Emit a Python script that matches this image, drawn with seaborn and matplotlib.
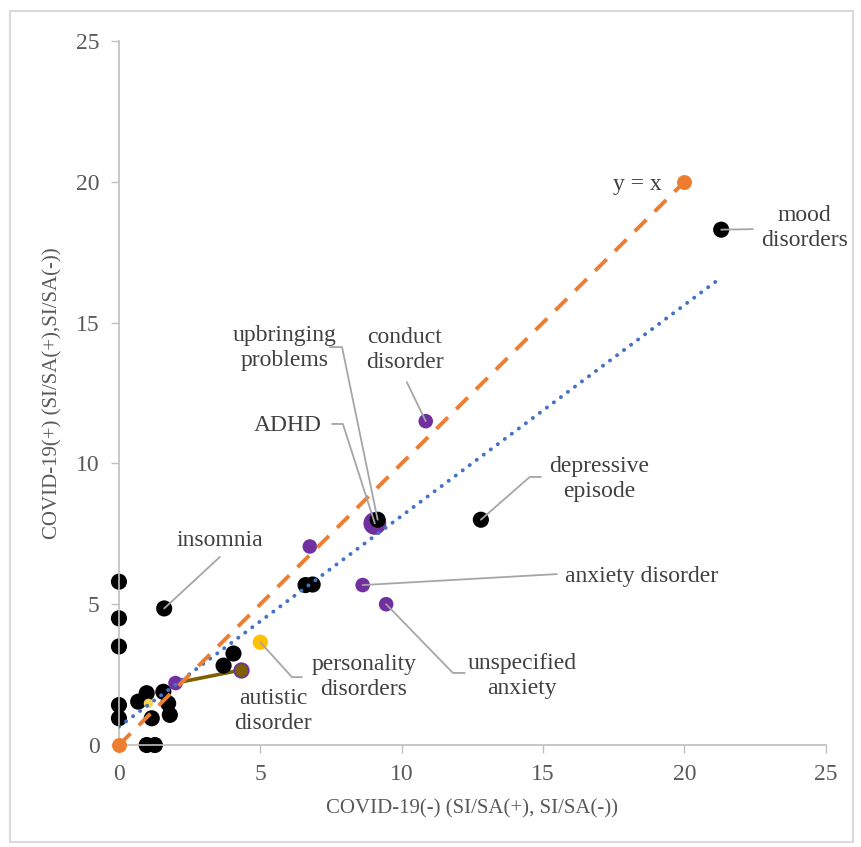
import matplotlib
matplotlib.use("Agg")
import matplotlib.pyplot as plt
import seaborn as sns
import pandas as pd
from matplotlib.patches import Rectangle

# ---------------- data ----------------
# COVID-19(-) value (x) and COVID-19(+) value (y) of each diagnosis point
point_x = [0.0, 0.0, 0.0, 0.0, 0.0,
           1.6,
           0.68, 0.98, 1.16, 1.57, 1.74, 1.8,
           0.98, 1.27,
           3.7, 4.05,
           6.6, 6.85,
           12.8, 21.3,
           2.0, 6.75, 8.62, 9.45, 10.85,
           9.05, 9.15,
           5.0, 1.04]
point_y = [5.8, 4.5, 3.5, 1.42, 0.95,
           4.85,
           1.54, 1.84, 0.95, 1.89, 1.48, 1.07,
           0.0, 0.0,
           2.82, 3.25,
           5.68, 5.7,
           8.0, 18.3,
           2.2, 7.05, 5.68, 5.0, 11.5,
           7.87, 8.0,
           3.65, 1.48]
point_kind = (["black"] * 20 +
              ["purple"] * 5 +
              ["purple_big", "black"] +
              ["yellow", "yellow_small"])

# autistic disorder segment (purple -> brown)
autistic_x = [2.0, 4.3]
autistic_y = [2.2, 2.66]

# reference line y = x
ref_x = [0, 20]
ref_y = [0, 20]

# linear trend line
trend_x = [0.0, 21.3]
trend_y = [0.65, 16.6]

tick_values = [0, 5, 10, 15, 20, 25]

# labels: (text, point x, point y)
labels = {
    "insomnia": ("insomnia", 1.6, 4.85),
    "upbringing": ("upbringing\nproblems", 9.15, 8.0),
    "adhd": ("ADHD", 9.05, 7.87),
    "conduct": ("conduct\ndisorder", 10.85, 11.5),
    "depressive": ("depressive\nepisode", 12.8, 8.0),
    "anxiety": ("anxiety disorder", 8.62, 5.68),
    "unspecified": ("unspecified\nanxiety", 9.45, 5.0),
    "personality": ("personality\ndisorders", 5.0, 3.65),
    "autistic": ("autistic\ndisorder", 4.3, 2.66),
    "mood": ("mood\ndisorders", 21.3, 18.3),
    "yx": ("y = x", 20.0, 20.0),
}

x_label = "COVID-19(-) (SI/SA(+), SI/SA(-))"
y_label = "COVID-19(+) (SI/SA(+),SI/SA(-))"

# ---------------- style ----------------
colors = {"black": "#000000", "purple": "#7030a0", "purple_big": "#7030a0",
          "yellow": "#ffc000", "yellow_small": "#ffd34d", "brown": "#7f6000",
          "orange": "#ed7d31"}
sizes = {"black": 135, "purple": 110, "purple_big": 270,
         "yellow": 120, "yellow_small": 45}

# text layout: (text x, text y, ha, leader path points between point and text)
layout = {
    "insomnia": (3.57, 7.28, "center", [(3.57, 6.68)]),
    "upbringing": (5.87, 14.1, "center", [(7.89, 14.13), (7.46, 14.13)]),
    "adhd": (5.98, 11.36, "center", [(7.92, 11.4), (7.53, 11.4)]),
    "conduct": (10.11, 14.03, "center", [(10.18, 12.89)]),
    "depressive": (17.0, 9.45, "center", [(14.53, 9.52), (14.92, 9.52)]),
    "anxiety": (15.77, 5.97, "left", [(15.49, 6.07)]),
    "unspecified": (14.25, 2.45, "center", [(11.81, 2.56), (12.23, 2.56)]),
    "personality": (8.66, 2.41, "center", [(6.12, 2.41), (6.47, 2.41)]),
    "autistic": (5.45, 1.21, "center", []),
    "mood": (24.26, 18.36, "center", [(22.42, 18.32)]),
    "yx": (18.32, 19.89, "center", []),
}

sns.set_theme(style="white")
plt.rcParams["font.family"] = ["Liberation Serif", "DejaVu Serif"]

fig = plt.figure(figsize=(8.62, 8.47), dpi=100)
fig.patches.append(Rectangle((0.0116, 0.006), 0.978, 0.981, transform=fig.transFigure,
                             fill=False, edgecolor="#d9d9d9", linewidth=1.5))
ax = fig.add_axes([0.138, 0.1204, 0.820, 0.8312])

df = pd.DataFrame({"x": point_x, "y": point_y, "kind": point_kind})

# autistic disorder segment
sns.lineplot(x=autistic_x, y=autistic_y, ax=ax, color=colors["brown"], linewidth=2.6,
             sort=False, estimator=None, zorder=1)

sns.scatterplot(data=df, x="x", y="y", hue="kind", palette=colors, size="kind",
                sizes=sizes, legend=False, linewidth=0, ax=ax, clip_on=False, zorder=2)
sns.scatterplot(x=[autistic_x[1]], y=[autistic_y[1]], color=colors["brown"], s=110,
                edgecolor=colors["purple"], linewidth=1.2, ax=ax, clip_on=False, zorder=2)

# trend line (dotted blue)
sns.lineplot(x=trend_x, y=trend_y, ax=ax, color="#4472c4", linewidth=2.8,
             linestyle=(0, (0.05, 2.2)), dash_capstyle="round", sort=False,
             estimator=None, zorder=3)
# y = x (dashed orange)
sns.lineplot(x=ref_x, y=ref_y, ax=ax, color=colors["orange"], linewidth=2.8,
             linestyle=(0, (4.2, 3.0)), sort=False, estimator=None, zorder=3)
sns.scatterplot(x=ref_x, y=ref_y, color=colors["orange"], s=115, linewidth=0,
                ax=ax, clip_on=False, zorder=4)

# labels and leader lines
for key, (text, px, py) in labels.items():
    tx, ty, ha, path = layout[key]
    if path:
        xs = [px] + [p[0] for p in path]
        ys = [py] + [p[1] for p in path]
        ax.plot(xs, ys, color="#a6a6a6", linewidth=1.3, zorder=5, clip_on=False)
    ax.text(tx, ty, text, ha=ha, va="center", fontsize=17, color="#404040",
            linespacing=1.25, zorder=6, clip_on=False)

ax.set_xlim(0, 25)
ax.set_ylim(0, 25)
ax.set_xticks(tick_values)
ax.set_yticks(tick_values)
ax.set_xticklabels([str(v) for v in tick_values])
ax.set_yticklabels([str(v) for v in tick_values])
ax.tick_params(axis="both", which="major", direction="out", length=6, width=1,
               color="#bfbfbf", labelsize=17, labelcolor="#595959", pad=8)
ax.tick_params(axis="x", bottom=True)
ax.tick_params(axis="y", left=True)
for side in ["top", "right"]:
    ax.spines[side].set_visible(False)
for side in ["left", "bottom"]:
    ax.spines[side].set_color("#bfbfbf")
    ax.spines[side].set_linewidth(1.2)

ax.set_xlabel(x_label, fontsize=15, color="#595959", labelpad=10)
ax.set_ylabel(y_label, fontsize=15, color="#595959", labelpad=10)

fig.savefig("out.png", dpi=100)
